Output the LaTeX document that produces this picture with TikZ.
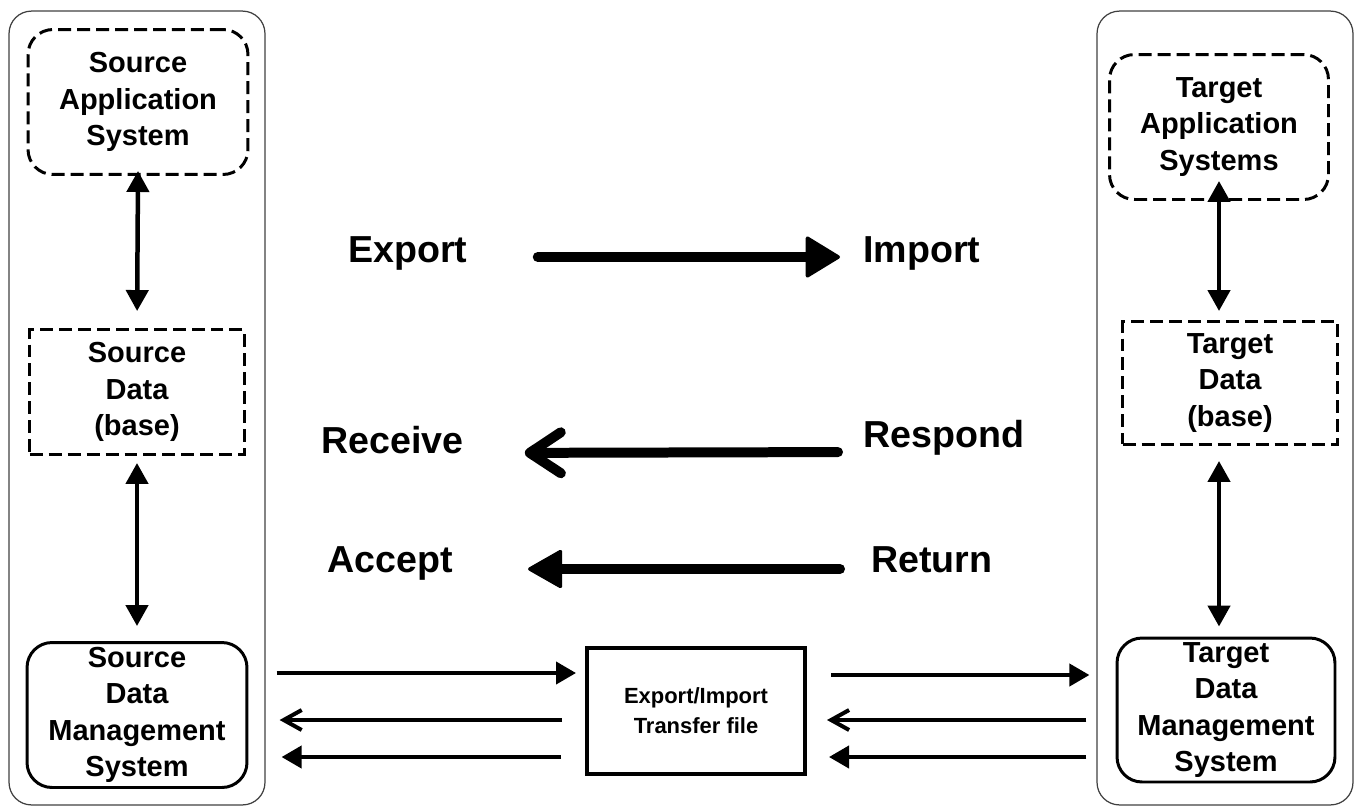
\documentclass[tikz,border=0pt]{standalone}
\usepackage{fontspec}
\setmainfont{Liberation Sans}
\usetikzlibrary{arrows.meta,calc}
\tikzset{pan/.style={draw=black!75,line width=0.7pt,rounded corners=0.45cm,minimum width=5.12cm,minimum height=15.88cm},
sys/.style={draw,line width=1.7pt,dash pattern=on 0.26cm off 0.12cm,rounded corners=0.5cm,align=center,inner sep=0pt,minimum width=4.4cm,minimum height=2.9cm,font=\fontsize{16.5}{20.7}\selectfont\bfseries},
dat/.style={sys,sharp corners,minimum width=4.3cm,minimum height=2.5cm},
dms/.style={sys,solid},
tfb/.style={draw,line width=2.3pt,minimum width=4.36cm,minimum height=2.52cm,align=center,font=\fontsize{12.5}{17}\selectfont\bfseries},
lbl/.style={inner sep=0pt,anchor=base west,font=\fontsize{21.4}{25}\selectfont\bfseries}}
\tikzset{big/.style={line width=0.2cm,line cap=round},vrt/.style={line width=0.09cm,{Triangle[length=0.42cm,width=0.44cm]}-{Triangle[length=0.42cm,width=0.44cm]}},sm/.style={line width=0.08cm}}
\begin{document}
\begin{tikzpicture}[x=0.02cm,y=-0.02cm]
\useasboundingbox (0,0) rectangle (1355,809);
% source and target sides
\node[pan] (lp) at (137,408) {};
\node[pan] (rp) at (1225,408) {};
\node[sys] (sas) at (138,102) {Source\\Application\\System};
\node[dat] (sdb) at (137,392) {Source\\Data\\(base)};
\node[dms] (sdm) at (137,715) {Source\\Data\\Management\\System};
\node[sys,minimum width=4.38cm] (tas) at (1219,127) {Target\\Application\\Systems};
\node[dat,minimum height=2.46cm] (tdb) at (1230,383) {Target\\Data\\(base)};
\node[dms,minimum width=4.36cm,minimum height=2.88cm] (tdm) at (1226,710) {Target\\Data\\Management\\System};
\node[tfb] (tf) at (696,711) {Export/Import\\Transfer file};
% labels
\node[lbl] (exp) at (348,262) {Export};
\node[lbl] (imp) at (863,262) {Import};
\node[lbl] (rec) at (321,453) {Receive};
\node[lbl] (res) at (863,447) {Respond};
\node[lbl] (acc) at (327,572) {Accept};
\node[lbl] (ret) at (871,572) {Return};
\draw[big,-{Triangle[round,length=0.72cm,width=0.86cm,line width=2pt]},shorten <=1.4cm,shorten >=0.46cm] ([yshift=0.1cm]exp.base east) -- ([yshift=0.1cm]imp.base west);
\draw[big,-{Straight Barb[round,length=0.62cm,width=0.82cm]},shorten <=0.5cm,shorten >=1.22cm] ([yshift=-0.1cm]res.base west) -- (rec.base east);
\draw[big,-{Triangle[round,length=0.72cm,width=0.8cm,line width=2pt]},shorten <=0.62cm,shorten >=1.5cm] ([yshift=0.06cm]ret.base west) -- ([yshift=0.06cm]acc.base east);
% up and down
\draw[vrt,shorten <=-0.1cm,shorten >=0.34cm] (sas.south) -- (sdb.north);
\draw[vrt,shorten <=0.14cm,shorten >=0.3cm] (sdb.south) -- (sdm.north);
\draw[vrt,shorten <=-0.4cm,shorten >=0.18cm] (tas.south) -- (tas.south |- tdb.north);
\draw[vrt,shorten <=0.3cm,shorten >=0.2cm] (tas.south |- tdb.south) -- (tas.south |- tdm.north);
% transfer file
\draw[sm,-{Triangle[length=0.4cm,width=0.44cm]},shorten <=0.22cm,shorten >=0.18cm] (lp.east |- 0,673) -- (tf.west |- 0,673);
\draw[sm,-{Straight Barb[length=0.36cm,width=0.4cm]},shorten <=0.46cm,shorten >=0.28cm] (tf.west |- 0,720) -- (lp.east |- 0,720);
\draw[sm,-{Triangle[length=0.4cm,width=0.44cm]},shorten <=0.48cm,shorten >=0.32cm] (tf.west |- 0,757) -- (lp.east |- 0,757);
\draw[sm,-{Triangle[length=0.4cm,width=0.44cm]},shorten <=0.48cm,shorten >=0.14cm] (tf.east |- 0,675) -- (rp.west |- 0,675);
\draw[sm,-{Straight Barb[length=0.36cm,width=0.4cm]},shorten <=0.2cm,shorten >=0.4cm] (rp.west |- 0,720) -- (tf.east |- 0,720);
\draw[sm,-{Triangle[length=0.4cm,width=0.44cm]},shorten <=0.2cm,shorten >=0.44cm] (rp.west |- 0,757) -- (tf.east |- 0,757);
\end{tikzpicture}
\end{document}
